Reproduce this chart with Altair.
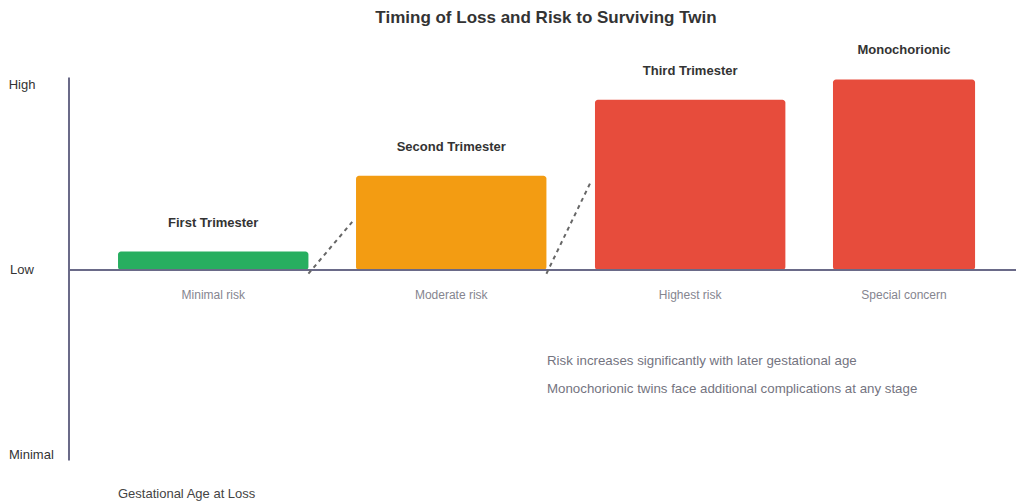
import altair as alt
import pandas as pd

title_text = "Timing of Loss and Risk to Surviving Twin"
stages = ["First Trimester", "Second Trimester", "Third Trimester", "Monochorionic"]
risk_labels = ["Minimal risk", "Moderate risk", "Highest risk", "Special concern"]
risk_values = [0.10, 0.51, 0.92, 1.03]
bar_start = [0.206, 1.206, 2.21, 3.21]
bar_end = [1.006, 2.006, 3.01, 3.807]
bar_colors = ["#27ae60", "#f39c12", "#e74c3c", "#e74c3c"]

level_labels = ["High", "Low", "Minimal"]
level_values = [1.0, 0.0, -1.0]

conn_x0 = [1.006, 2.006]
conn_y0 = [-0.02, -0.02]
conn_x1 = [1.19, 2.19]
conn_y1 = [0.26, 0.47]

notes = [
    "Risk increases significantly with later gestational age",
    "Monochorionic twins face additional complications at any stage",
]
x_title = "Gestational Age at Loss"

FONT = "Liberation Sans"
XDOM = [-0.2563, 3.979]
YDOM = [-1.254, 1.4162]
xs = alt.Scale(domain=XDOM, nice=False, zero=False)
ys = alt.Scale(domain=YDOM, nice=False, zero=False)

bars_df = pd.DataFrame({
    "stage": stages, "risk": risk_labels, "value": risk_values,
    "x0": bar_start, "x1": bar_end, "color": bar_colors,
})
bars_df["mid"] = (bars_df["x0"] + bars_df["x1"]) / 2
bars_df["zero"] = 0.0

levels_df = pd.DataFrame({"label": level_labels, "v": level_values})
conn_df = pd.DataFrame({"x0": conn_x0, "y0": conn_y0, "x1": conn_x1, "y1": conn_y1})
axis_df = pd.DataFrame({"x0": [XDOM[0] + 0.2563], "x1": [XDOM[1]],
                        "ytop": [max(level_values) + 0.04], "ybot": [min(level_values) - 0.03]})

X = lambda f: alt.X(f, type="quantitative", scale=xs, axis=None)
Y = lambda f: alt.Y(f, type="quantitative", scale=ys, axis=None)

bars = alt.Chart(bars_df).mark_rect(cornerRadius=3).encode(
    x=X("x0"), x2="x1", y=Y("zero"), y2="value",
    color=alt.Color("color:N", scale=None),
)

baseline = alt.Chart(axis_df).mark_rule(color="#6a6a88", strokeWidth=2).encode(
    x=X("x0"), x2="x1", y=Y("x0")
)
vaxis = alt.Chart(axis_df).mark_rule(color="#6a6a88", strokeWidth=2).encode(
    x=X("x0"), y=Y("ytop"), y2="ybot"
)

connectors = alt.Chart(conn_df).mark_rule(
    color="#666666", strokeWidth=2, strokeDash=[4, 4]
).encode(x=X("x0"), y=Y("y0"), x2="x1", y2="y1")

stage_labels = alt.Chart(bars_df).mark_text(
    font=FONT, fontSize=13, fontWeight="bold", color="#333333",
    baseline="middle", dy=-29,
).encode(x=X("mid"), y=Y("value"), text="stage:N")

risk_text = alt.Chart(bars_df).mark_text(
    font=FONT, fontSize=12, color="#85858f", baseline="middle", dy=25,
).encode(x=X("mid"), y=Y("zero"), text="risk:N")

lvl_main = alt.Chart(levels_df[levels_df["label"] != "Minimal"]).mark_text(
    font=FONT, fontSize=13, color="#333333", baseline="middle", align="center",
).encode(x=alt.value(14), y=Y("v"), text="label:N")
lvl_min = alt.Chart(levels_df[levels_df["label"] == "Minimal"]).mark_text(
    font=FONT, fontSize=13, color="#333333", baseline="middle", align="left",
).encode(x=alt.value(1), y=Y("v"), text="label:N")

notes_df = pd.DataFrame({"t": ["\n".join(notes)]})
notes_text = alt.Chart(notes_df).mark_text(
    font=FONT, fontSize=13.3, color="#74747f", align="left", baseline="middle",
    lineBreak="\n", lineHeight=28,
).encode(x=alt.value(539), y=alt.value(353), text="t:N")

xt_df = pd.DataFrame({"t": [x_title]})
xt_text = alt.Chart(xt_df).mark_text(
    font=FONT, fontSize=13, color="#444444", align="left", baseline="middle",
).encode(x=alt.value(110), y=alt.value(486), text="t:N")

title_df = pd.DataFrame({"t": [title_text]})
title = alt.Chart(title_df).mark_text(
    font=FONT, fontSize=17, fontWeight="bold", color="#333333",
    align="center", baseline="alphabetic",
).encode(x=alt.value(538), y=alt.value(15), text="t:N")

chart = alt.layer(
    bars, baseline, vaxis, connectors, stage_labels, risk_text,
    lvl_main, lvl_min, notes_text, xt_text, title,
).properties(
    width=1008, height=494, padding=0,
    autosize=alt.AutoSizeParams(type="none"),
).configure_view(stroke=None)

chart.save("out.html", embed_options={"renderer": "svg", "actions": False})
